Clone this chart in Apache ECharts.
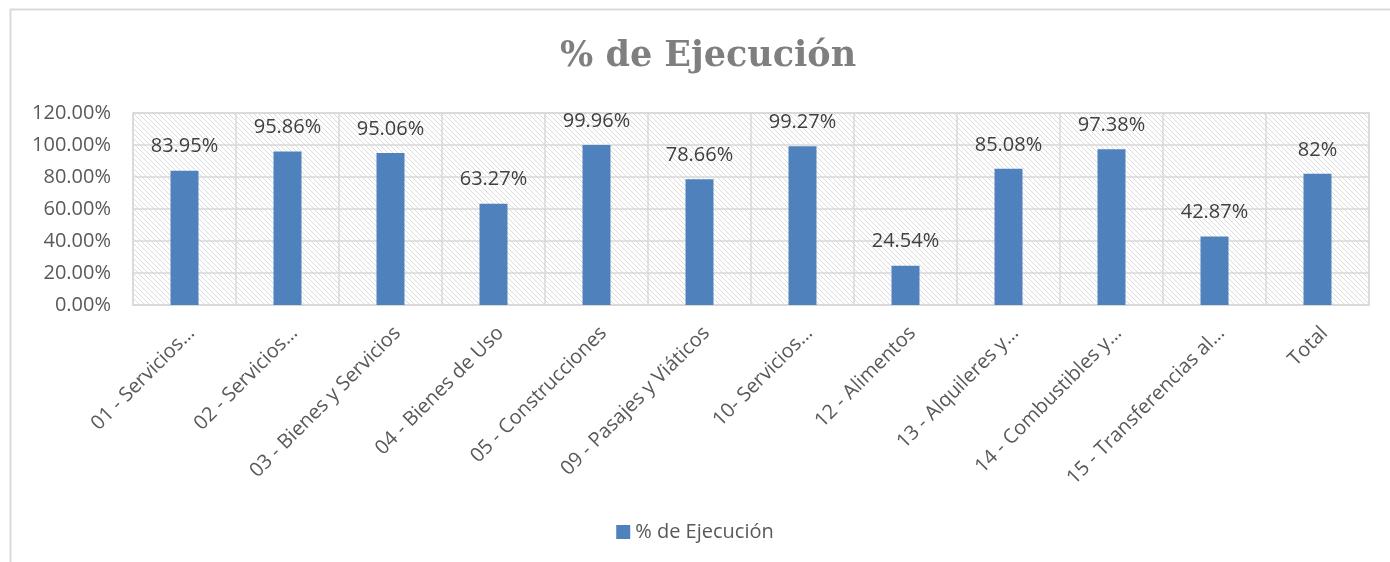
<!DOCTYPE html>
<html>
<head>
<meta charset="utf-8">
<script src="https://cdn.jsdelivr.net/npm/echarts@6/dist/echarts.min.js"></script>
<style>
  html, body { margin: 0; padding: 0; background: #ffffff; }
  #chart { width: 1390px; height: 562px; }
</style>
</head>
<body>
<div id="chart"></div>
<script>
const categories = [
  '01 - Servicios…', '02 - Servicios…', '03 - Bienes y Servicios', '04 - Bienes de Uso',
  '05 - Construcciones', '09 - Pasajes y Viáticos', '10- Servicios…', '12 - Alimentos',
  '13 - Alquileres y…', '14 - Combustibles y…', '15 - Transferencias al…', 'Total'
]
const ejecucion = [83.95, 95.86, 95.06, 63.27, 99.96, 78.66, 99.27, 24.54, 85.08, 97.38, 42.87, 82]
const valueLabels = ['83.95%', '95.86%', '95.06%', '63.27%', '99.96%', '78.66%', '99.27%', '24.54%', '85.08%', '97.38%', '42.87%', '82%']

// diagonal hatch for the plot area
const makeHatch = () => {
  const size = 5
  const cv = document.createElement('canvas')
  cv.width = size
  cv.height = size
  const ctx = cv.getContext('2d')
  ctx.fillStyle = '#ffffff'
  ctx.fillRect(0, 0, size, size)
  ctx.strokeStyle = '#dcdcdc'
  ctx.lineWidth = 1
  ctx.beginPath()
  ctx.moveTo(-1, -1); ctx.lineTo(size + 1, size + 1)
  ctx.moveTo(-1, size - 1); ctx.lineTo(1, size + 1)
  ctx.moveTo(size - 1, -1); ctx.lineTo(size + 1, 1)
  ctx.stroke()
  return cv
}

const chart = echarts.init(document.getElementById('chart'))
const font = '"Open Sans", sans-serif'

chart.setOption({
  animation: false,
  title: {
    text: '% de Ejecución',
    left: 555,
    top: 34,
    textStyle: {
      fontFamily: '"DejaVu Serif", serif',
      fontWeight: 'bold',
      fontSize: 35,
      color: '#7f7f7f'
    }
  },
  graphic: [
    {
      type: 'polyline',
      shape: { points: [[10.5, 600], [10.5, 9.5], [1400, 9.5]] },
      style: { stroke: '#d9d9d9', lineWidth: 2, fill: null },
      silent: true
    }
  ],
  legend: {
    bottom: 15,
    left: 'center',
    icon: 'rect',
    itemWidth: 14,
    itemHeight: 14,
    itemGap: 6,
    textStyle: { fontFamily: font, fontSize: 20, color: '#595959' },
    data: ['% de Ejecución']
  },
  grid: {
    left: 133,
    top: 113,
    width: 1236,
    height: 192,
    show: true,
    backgroundColor: { image: makeHatch(), repeat: 'repeat' },
    borderColor: '#d9d9d9',
    borderWidth: 1.5
  },
  xAxis: {
    type: 'category',
    data: categories,
    axisLine: { lineStyle: { color: '#d9d9d9', width: 1.5 } },
    axisTick: { show: false },
    splitLine: { show: true, lineStyle: { color: '#d9d9d9', width: 1.5 } },
    axisLabel: {
      interval: 0,
      rotate: 45,
      margin: 18,
      verticalAlign: 'top',
      fontFamily: font,
      fontSize: 20,
      color: '#595959'
    }
  },
  yAxis: {
    type: 'value',
    min: 0,
    max: 120,
    interval: 20,
    axisLine: { show: false },
    axisTick: { show: false },
    splitLine: { lineStyle: { color: '#d9d9d9', width: 1.5 } },
    axisLabel: {
      margin: 22,
      fontFamily: font,
      fontSize: 20,
      color: '#595959',
      formatter: (v) => v.toFixed(2) + '%'
    }
  },
  series: [
    {
      name: '% de Ejecución',
      type: 'bar',
      data: ejecucion,
      barWidth: 28,
      itemStyle: { color: '#4f81bd' },
      label: {
        show: true,
        position: 'top',
        distance: 14,
        fontFamily: font,
        fontSize: 20,
        color: '#404040',
        formatter: (p) => valueLabels[p.dataIndex]
      }
    }
  ]
})
</script>
</body>
</html>
